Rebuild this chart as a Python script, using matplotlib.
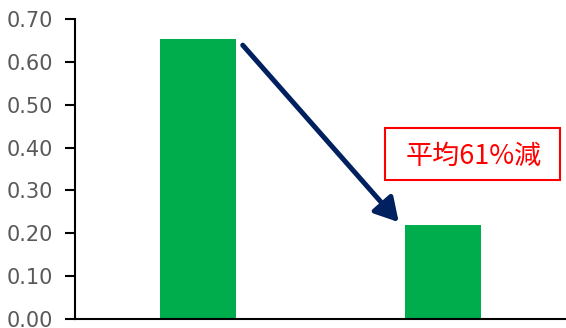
import numpy as np
import matplotlib.pyplot as plt
from matplotlib.patches import Rectangle

# data
categories = ['A', 'B']
values = [0.653, 0.220]
yticks = [0.0, 0.1, 0.2, 0.3, 0.4, 0.5, 0.6, 0.7]
label = '平均61%減'

fig = plt.figure(figsize=(5.66, 3.28), dpi=100)
ax = fig.add_axes([0.1325, 0.0274, 0.8666, 0.9146])

x = np.arange(len(categories))
ax.bar(x, values, width=0.31, color='#00AD4D')

ax.set_xlim(-0.5, 1.5)
ax.set_ylim(0, 0.7)
ax.set_yticks(yticks)
ax.set_yticklabels(['%.2f' % v for v in yticks])
ax.set_xticks([])
ax.tick_params(axis='y', length=7, width=1.5, color='black',
               labelcolor='#595959', labelsize=15, pad=9)
for s in ['top', 'right']:
    ax.spines[s].set_visible(False)
for s in ['left', 'bottom']:
    ax.spines[s].set_linewidth(1.5)

# arrow from first bar down to second
ax.annotate('', xy=(0.820, 0.226), xytext=(0.184, 0.639),
            arrowprops=dict(arrowstyle='-|>,head_length=0.7,head_width=0.4',
                            mutation_scale=20, lw=3.6, color='#002060',
                            shrinkA=0, shrinkB=0))

# label box
box = Rectangle((385/566, 1 - 180/328), (560-385)/566, (180-128)/328,
                transform=fig.transFigure, fill=False,
                edgecolor='#FF0000', lw=1.5, clip_on=False)
fig.add_artist(box)
fig.text(474/566, 1 - 156/328, label, color='#FF0000', fontsize=19.5,
         ha='center', va='center', family=['Noto Sans CJK JP', 'DejaVu Sans'])

fig.savefig('out.png', dpi=100)
